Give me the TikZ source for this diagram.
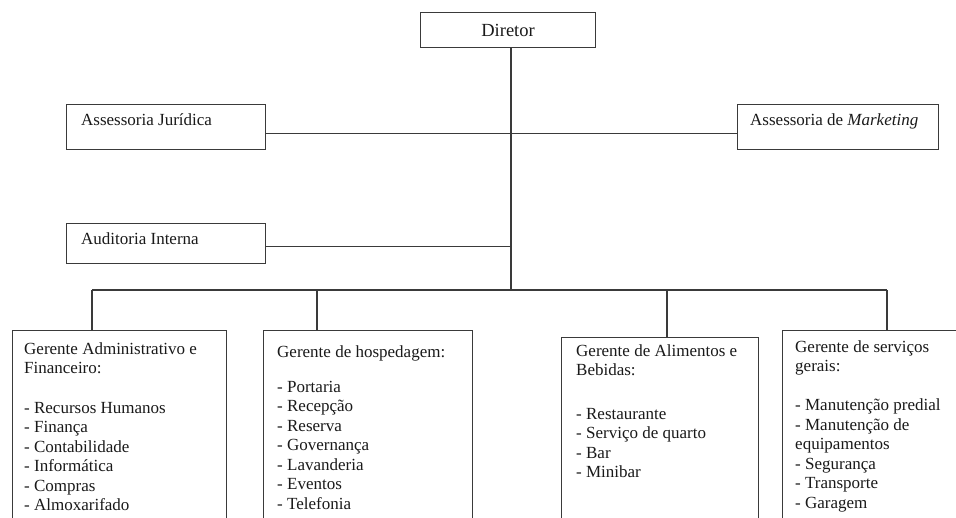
\documentclass[tikz,border=0pt]{standalone}
\usepackage{fontspec}
\setmainfont{Liberation Serif}
\definecolor{lineclr}{HTML}{3A3A3A}
\definecolor{txtclr}{HTML}{1A1A1A}
\begin{document}
\begin{tikzpicture}[x=1pt,y=-1pt,
  box/.style={draw=lineclr, line width=1.1pt, inner sep=0pt, anchor=north west},
  lbl/.style={inner sep=0pt, text=txtclr, font=\fontsize{17}{19.5}\selectfont},
  listtxt/.style={inner sep=0pt, anchor=north west, align=left, text=txtclr, font=\fontsize{17}{19.5}\selectfont},
  conn/.style={draw=lineclr, line width=1.1pt}]
\useasboundingbox (0,0) rectangle (956,517);
\fill[white] (0,0) rectangle (956,517);
\clip (0,0) rectangle (956,517);

% top boxes
\node[box, minimum width=175pt, minimum height=35pt, lbl, font=\fontsize{18.5}{20}\selectfont, anchor=north west] (dir) at (420,12) {Diretor};
\node[box, minimum width=199pt, minimum height=45pt] (jur) at (66,104) {};
\node[lbl, anchor=base west] (jurt) at (81,125) {Assessoria Jurídica};
\node[box, minimum width=201pt, minimum height=45pt] (mkt) at (737,104) {};
\node[lbl, anchor=base west] (mktt) at (750,125) {Assessoria de \textit{Marketing}};
\node[box, minimum width=199pt, minimum height=40pt] (aud) at (66,223) {};
\node[lbl, anchor=base west] (audt) at (81,244) {Auditoria Interna};

% manager boxes
\node[box, minimum width=214pt, minimum height=200pt] (b1) at (12,330) {};
\node[box, minimum width=209pt, minimum height=200pt] (b2) at (263,330) {};
\node[box, minimum width=197pt, minimum height=200pt] (b3) at (561,337) {};
\node[box, minimum width=190pt, minimum height=200pt] (b4) at (782,330) {};

\node[listtxt] (t1) at ([xshift=12pt,yshift=-12pt]b1.north west) {Gerente Administrativo e\\Financeiro:\\[20pt]- Recursos Humanos\\- Finança\\- Contabilidade\\- Informática\\- Compras\\- Almoxarifado};
\node[listtxt] (t2) at ([xshift=14pt,yshift=-15pt]b2.north west) {Gerente de hospedagem:\\[15.5pt]- Portaria\\- Recepção\\- Reserva\\- Governança\\- Lavanderia\\- Eventos\\- Telefonia};
\node[listtxt] (t3) at ([xshift=15pt,yshift=-7pt]b3.north west) {Gerente de Alimentos e\\Bebidas:\\[24pt]- Restaurante\\- Serviço de quarto\\- Bar\\- Minibar};
\node[listtxt] (t4) at ([xshift=13pt,yshift=-10pt]b4.north west) {Gerente de serviços\\gerais:\\[19.5pt]- Manutenção predial\\- Manutenção de\\equipamentos\\- Segurança\\- Transporte\\- Garagem};

% connectors
\coordinate (bus) at (511,290);
\coordinate (d1) at (92,290);
\coordinate (d2) at (317,290);
\coordinate (d3) at (667,290);
\coordinate (d4) at (887,290);
\draw[conn] (dir.south -| bus) -- (bus);
\draw[conn] ([yshift=-6.5pt]jur.east) -- ([yshift=-6.5pt]mkt.west);
\draw[conn] ([yshift=-2.5pt]aud.east) -- ([yshift=-2.5pt]aud.east -| bus);
\draw[conn] (d1) -- (d4);
\draw[conn] (d1) -- (d1 |- b1.north);
\draw[conn] (d2) -- (d2 |- b2.north);
\draw[conn] (d3) -- (d3 |- b3.north);
\draw[conn] (d4) -- (d4 |- b4.north);
\end{tikzpicture}
\end{document}
